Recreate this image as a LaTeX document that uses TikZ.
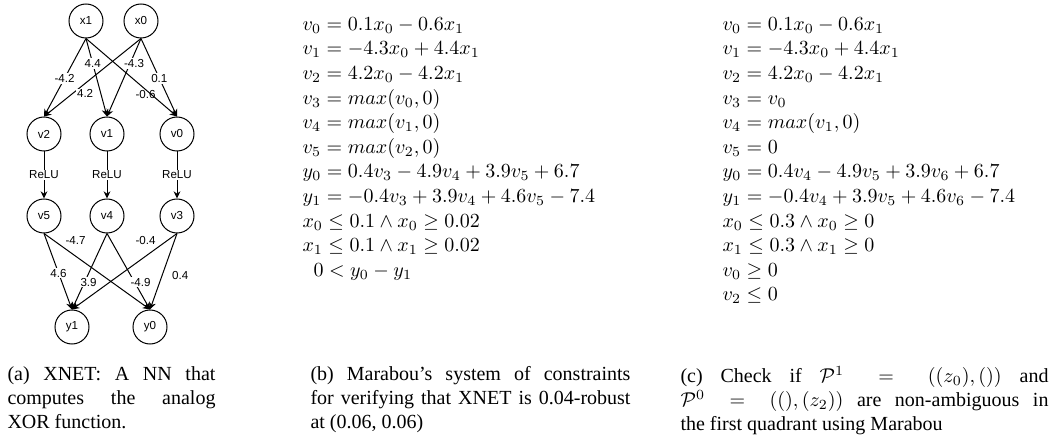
\documentclass[tikz,border=0pt]{standalone}
\usepackage{amsmath,amssymb}
\usepackage{fontspec}
\newfontfamily\capfont{Liberation Serif}
\newfontfamily\nnfont{Liberation Sans}
\usetikzlibrary{arrows.meta}

\begin{document}
\begin{tikzpicture}[x=0.5pt, y=-0.5pt, line width=0.5pt,
    >={Stealth[length=3.6pt, width=3.4pt]},
    neuron/.style={draw, circle, minimum size=17pt, inner sep=0pt,
        font=\nnfont\fontsize{5.8}{7}\selectfont},
    wlabel/.style={font=\nnfont\fontsize{5.8}{7}\selectfont, inner sep=0.6pt},
    caption/.style={font=\capfont\fontsize{10}{12}\selectfont, align=justify,
        inner sep=0pt, anchor=north west},
    eqs/.style={font=\fontsize{10}{12.3}\selectfont, align=left,
        inner sep=0pt, anchor=north west}]
    \useasboundingbox (0,0) rectangle (1060,438);

    % 输入层
    \node[neuron] (x1) at (86,21) {x1};
    \node[neuron] (x0) at (141,21) {x0};

    % 隐藏层
    \node[neuron] (v2) at (44,134) {v2};
    \node[neuron] (v1) at (107,134) {v1};
    \node[neuron] (v0) at (177,134) {v0};

    % ReLU 之后
    \node[neuron] (v5) at (44,216) {v5};
    \node[neuron] (v4) at (107,216) {v4};
    \node[neuron] (v3) at (177,216) {v3};

    % 输出层
    \node[neuron] (y1) at (72,327) {y1};
    \node[neuron] (y0) at (150,327) {y0};

    % 第一层权重
    \draw[->] (x1.south) -- (v2.north) node[wlabel, fill=white, pos=0.51] {-4.2};
    \draw[->] (x1.south) -- (v1.north) node[wlabel, fill=white, pos=0.32] {4.4};
    \draw[->] (x1.south) -- (v0.north) node[wlabel, pos=0.72, xshift=-3pt] {-0.6};
    \draw[->] (x0.south) -- (v2.north) node[wlabel, fill=white, pos=0.71, xshift=6.5pt] {4.2};
    \draw[->] (x0.south) -- (v1.north) node[wlabel, fill=white, pos=0.32, xshift=2pt] {-4.3};
    \draw[->] (x0.south) -- (v0.north) node[wlabel, fill=white, pos=0.51] {0.1};

    % ReLU
    \foreach \a/\b in {v2/v5, v1/v4, v0/v3} {
        \draw[->] (\a.south) -- (\b.north) node[wlabel, fill=white, midway] {ReLU};
    }

    % 第二层权重
    \draw[->] (v5.south) -- (y1.north) node[wlabel, fill=white, pos=0.52] {4.6};
    \draw[->] (v5.south) -- (y0.north) node[wlabel, pos=0.09, xshift=11pt] {-4.7};
    \draw[->] (v4.south) -- (y1.north) node[wlabel, fill=white, pos=0.64, xshift=2pt] {3.9};
    \draw[->] (v4.south) -- (y0.north) node[wlabel, fill=white, pos=0.64, xshift=3pt] {-4.9};
    \draw[->] (v3.south) -- (y1.north) node[wlabel, pos=0.09, xshift=-11pt] {-0.4};
    \draw[->] (v3.south) -- (y0.north) node[wlabel, pos=0.55, xshift=9pt] {0.4};

    % Marabou 约束 (b)
    \node[eqs] (eqb) at (302,17) {%
        $v_0 = 0.1x_0 - 0.6x_1$\\
        $v_1 = -4.3x_0 + 4.4x_1$\\
        $v_2 = 4.2x_0 - 4.2x_1$\\
        $v_3 = max(v_0, 0)$\\
        $v_4 = max(v_1, 0)$\\
        $v_5 = max(v_2, 0)$\\
        $y_0 = 0.4v_3 - 4.9v_4 + 3.9v_5 + 6.7$\\
        $y_1 = -0.4v_3 + 3.9v_4 + 4.6v_5 - 7.4$\\
        $x_0 \leq 0.1 \wedge x_0 \geq 0.02$\\
        $x_1 \leq 0.1 \wedge x_1 \geq 0.02$\\
        \hspace*{5.5pt}$0 < y_0 - y_1$};

    % Marabou 约束 (c)
    \node[eqs] (eqc) at (722,17) {%
        $v_0 = 0.1x_0 - 0.6x_1$\\
        $v_1 = -4.3x_0 + 4.4x_1$\\
        $v_2 = 4.2x_0 - 4.2x_1$\\
        $v_3 = v_0$\\
        $v_4 = max(v_1, 0)$\\
        $v_5 = 0$\\
        $y_0 = 0.4v_4 - 4.9v_5 + 3.9v_6 + 6.7$\\
        $y_1 = -0.4v_4 + 3.9v_5 + 4.6v_6 - 7.4$\\
        $x_0 \leq 0.3 \wedge x_0 \geq 0$\\
        $x_1 \leq 0.3 \wedge x_1 \geq 0$\\
        $v_0 \geq 0$\\
        $v_2 \leq 0$};

    % 图注
    \node[caption, text width=104pt] (capa) at (7,366)
        {(a) XNET: A NN that\linebreak computes the analog\linebreak XOR function.};
    \node[caption, text width=160pt] (capb) at (310,366)
        {(b) Marabou’s system of constraints\linebreak for verifying that XNET is 0.04-robust\linebreak at (0.06, 0.06)};
    \node[caption, text width=184pt] (capc) at (680,366)
        {(c) Check if $\mathcal{P}^1 = ((z_0),())$ and\linebreak $\mathcal{P}^0 = ((),(z_2))$ are non-ambiguous in\linebreak the first quadrant using Marabou};
\end{tikzpicture}
\end{document}
